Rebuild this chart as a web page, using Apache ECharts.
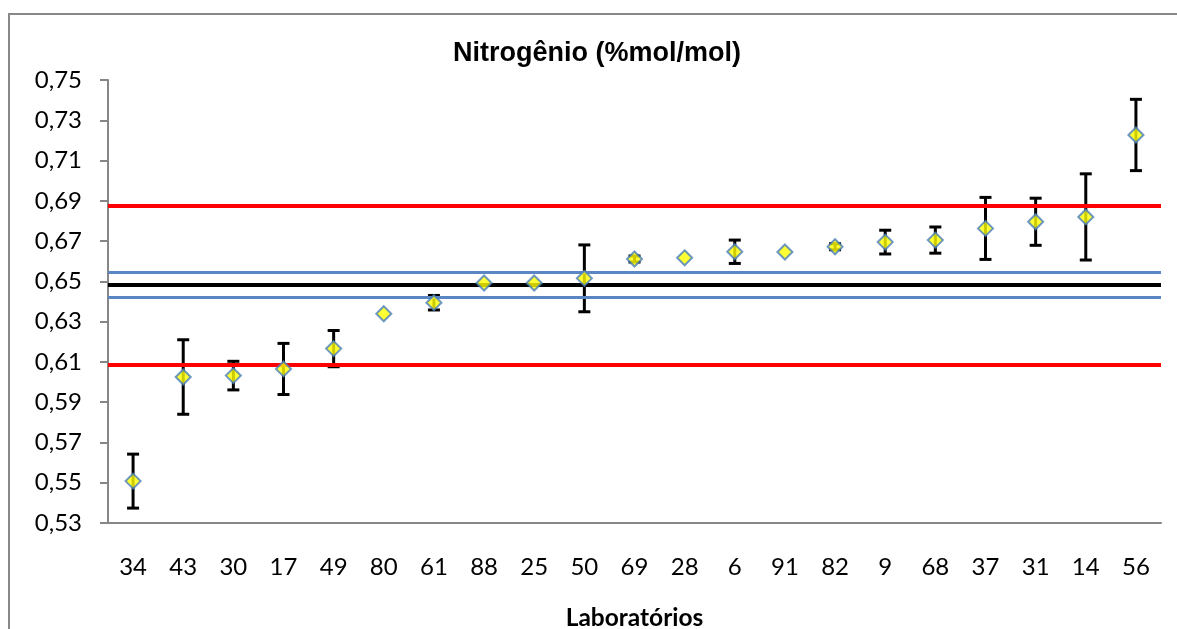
<!DOCTYPE html>
<html><head><meta charset="utf-8">
<script src="https://cdn.jsdelivr.net/npm/echarts@6/dist/echarts.min.js"></script>
<style>html,body{margin:0;padding:0;background:#fff}#c{width:1177px;height:629px}</style>
</head><body><div id="c"></div>
<script>
const labs = ['34','43','30','17','49','80','61','88','25','50','69','28','6','91','82','9','68','37','31','14','56'];
const values = [0.5508,0.6025,0.6032,0.6065,0.6166,0.6339,0.6394,0.6492,0.6492,0.6515,0.6611,0.6617,0.6647,0.6646,0.6672,0.6695,0.6705,0.6763,0.6796,0.6820,0.7227];
const uncert = [0.0134,0.0185,0.0071,0.0127,0.0090,0,0.0036,0,0,0.0166,0.0015,0,0.0058,0,0.0015,0.0059,0.0065,0.0154,0.0117,0.0214,0.0177];
const yTicks = [0.53,0.55,0.57,0.59,0.61,0.63,0.65,0.67,0.69,0.71,0.73,0.75];
const refValue = 0.6483;
const refUncert = [0.6419, 0.6546];
const limits = [0.6088, 0.6877];

const chart = echarts.init(document.getElementById('c'));
const errData = labs.map((l,i)=>[i, values[i]-uncert[i], values[i]+uncert[i]]);
const gray = '#868686';
chart.setOption({
  animation:false,
  title:{text:'Nitrogênio (%mol/mol)', left:453, top:40, padding:0,
    textStyle:{fontFamily:'Liberation Sans', fontWeight:'bold', fontSize:27, color:'#000'}},
  graphic:[{type:'rect', shape:{x:9,y:14,width:1300,height:800},
    style:{fill:'none', stroke:'#898989', lineWidth:2}, silent:true}],
  grid:{left:108, right:16, top:80, bottom:106, containLabel:false, outerBoundsMode:'none'},
  xAxis:{type:'category', data:labs, boundaryGap:true,
    axisLine:{lineStyle:{color:gray, width:2}},
    axisTick:{alignWithLabel:true, length:6, lineStyle:{color:gray, width:2}},
    axisLabel:{margin:32, fontFamily:'Lato', fontSize:24, color:'#000'},
    name:'Laboratórios', nameLocation:'middle', nameGap:83,
    nameTextStyle:{fontFamily:'Lato', fontWeight:'bold', fontSize:24.5, color:'#000'}},
  yAxis:{type:'value', min:0.53, max:0.75,
    axisLine:{show:true, lineStyle:{color:gray, width:2}},
    axisTick:{show:true, length:8, customValues:yTicks, lineStyle:{color:gray, width:2}},
    splitLine:{show:false},
    axisLabel:{customValues:yTicks, margin:26, fontFamily:'Lato', fontSize:24, color:'#000',
      formatter:v=>v.toFixed(2).replace('.',',')}},
  series:[
    {type:'line', data:[], silent:true,
      markLine:{symbol:'none', silent:true, precision:5, label:{show:false},
        data:[
          {yAxis:limits[0], lineStyle:{color:'#FF0000', width:4, type:'solid'}},
          {yAxis:limits[1], lineStyle:{color:'#FF0000', width:4, type:'solid'}},
          {yAxis:refUncert[0], lineStyle:{color:'#5A86C3', width:3, type:'solid'}},
          {yAxis:refUncert[1], lineStyle:{color:'#5A86C3', width:3, type:'solid'}},
          {yAxis:refValue, lineStyle:{color:'#000000', width:4, type:'solid'}}
        ]}},
    {type:'custom', data:errData, z:3,
      renderItem:function(params, api){
        const x = api.value(0);
        if (api.value(2) - api.value(1) <= 0) return null;
        const lo = api.coord([x, api.value(1)]);
        const hi = api.coord([x, api.value(2)]);
        const hw = 6;
        const st = {stroke:'#000', lineWidth:3};
        return {type:'group', children:[
          {type:'line', shape:{x1:lo[0],y1:lo[1],x2:hi[0],y2:hi[1]}, style:st},
          {type:'line', shape:{x1:lo[0]-hw,y1:lo[1],x2:lo[0]+hw,y2:lo[1]}, style:st},
          {type:'line', shape:{x1:hi[0]-hw,y1:hi[1],x2:hi[0]+hw,y2:hi[1]}, style:st}
        ]};
      }},
    {type:'scatter', data:values, z:5, symbol:'diamond', symbolSize:[15,15],
      itemStyle:{color:'#FFFF00', borderColor:'#4A7EBB', borderWidth:2}}
  ]
});
</script></body></html>
